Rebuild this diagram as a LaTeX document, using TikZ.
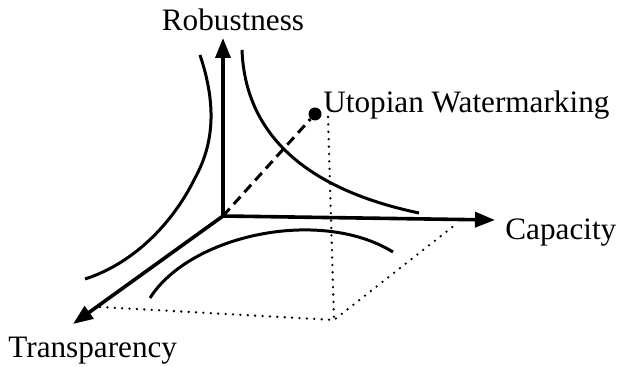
\documentclass[tikz,border=0pt]{standalone}
\usepackage{fontspec}
\setmainfont{Liberation Serif}
\usetikzlibrary{arrows.meta}

\begin{document}
\begin{tikzpicture}[
x=0.5pt, y=-0.5pt,
axis/.style={line width=1.8pt, -{Triangle[length=10pt, width=7.5pt]}},
curve/.style={line width=1.5pt},
guide/.style={line width=1.3pt, line cap=round, dash pattern=on 0pt off 3.7pt},
label/.style={inner sep=0pt, font=\fontsize{15.6}{18}\selectfont}
]
\useasboundingbox (0,0) rectangle (619,367);
% axes
\coordinate (O) at (223,216);
\coordinate (R) at (223,38);
\coordinate (C) at (495,220);
\coordinate (T) at (73,324);
\draw[axis] (O)--(R);
\draw[axis] (O)--(C);
\draw[axis] (O)--(T);
\node[label, anchor=base] (rob) at (233,31) {Robustness};
\node[label, anchor=base west] (cap) at (505,240) {Capacity};
\node[label, anchor=base west] (tra) at (8,357) {Transparency};
% utopian point
\node[circle, fill, inner sep=0pt, minimum size=6.5pt] (u) at (315,114) {};
\node[label, anchor=base west] (ut) at (323,113) {Utopian Watermarking};
\draw[curve, dash pattern=on 5pt off 3pt] (O)--(u);
% projection
\coordinate (p1) at (328,117);
\coordinate (p2) at (334,320);
\coordinate (f1) at (100,307);
\coordinate (f2) at (455,225);
\draw[guide] (p1)--(p2);
\draw[guide] (f1)--(p2)--(f2);
% trade-off curves
\draw[curve] (200,55) .. controls (215,100) and (216,140) .. (195,178)
  .. controls (172,225) and (132,264) .. (85,279);
\draw[curve] (242,50) .. controls (245,130) and (300,188) .. (419,213);
\draw[curve] (150,298) .. controls (190,235) and (320,207) .. (393,252);
\end{tikzpicture}
\end{document}
